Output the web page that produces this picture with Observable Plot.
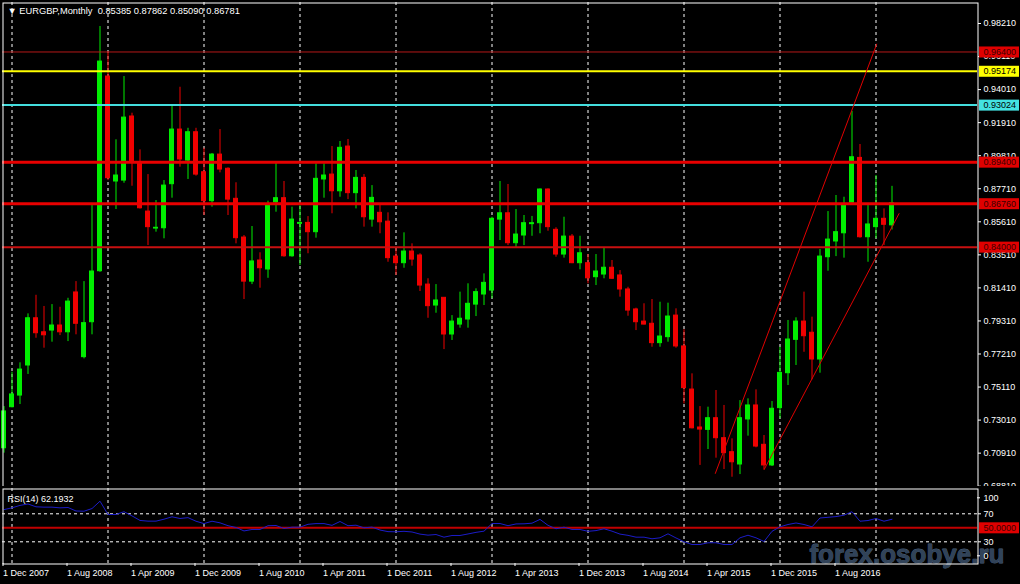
<!DOCTYPE html>
<html><head><meta charset="utf-8">
<script src="https://cdn.jsdelivr.net/npm/d3@7"></script>
<script src="https://cdn.jsdelivr.net/npm/@observablehq/plot@0.6"></script>
<style>
html,body{margin:0;padding:0;background:#000;}
#wrap{position:relative;width:1020px;height:584px;background:#000;overflow:hidden;}
#wrap svg{position:absolute;left:0;}
</style></head><body><div id="wrap"></div>
<script>
// ---------- data ----------
const symbol = "EURGBP", period = "Monthly";
const openP = [0.7122,0.7383,0.7457,0.7648,0.7948,0.7859,0.7870,0.7902,0.7859,0.8112,
0.7701,0.7923,0.8247,0.9484,0.8817,0.8823,0.9230,0.8937,0.8626,0.8518,
0.8520,0.8800,0.9147,0.8950,0.9130,0.8876,0.8692,0.8988,0.8898,0.8707,
0.8461,0.8181,0.8315,0.8258,0.8685,0.8711,0.8342,0.8548,0.8554,0.8495,
0.8830,0.8861,0.8755,0.9039,0.8743,0.8840,0.8575,0.8618,0.8562,0.8340,
0.8298,0.8372,0.8347,0.8162,0.8029,0.8078,0.7845,0.7908,0.7940,0.8035,
0.8099,0.8124,0.8575,0.8615,0.8425,0.8474,0.8546,0.8552,0.8766,0.8510,
0.8353,0.8467,0.8298,0.8298,0.8209,0.8226,0.8269,0.8220,0.8131,0.8004,
0.7927,0.7913,0.7790,0.7828,0.7965,0.7769,0.7495,0.7254,0.7239,0.7313,
0.7186,0.7097,0.7019,0.7305,0.7394,0.7144,0.7013,0.7377,0.7599,0.7811,
0.7927,0.7856,0.7686,0.8336,0.8436,0.8488,0.8683,0.8967,0.8463,0.8527,
0.8580,0.85385];
const highP = [0.7387,0.7605,0.7665,0.7976,0.8094,0.8023,0.8035,0.8018,0.8075,0.8181,
0.8181,0.8664,0.9802,0.9643,0.9082,0.9484,0.9251,0.9018,0.8861,0.8696,
0.8823,0.9300,0.9416,0.9155,0.9155,0.9028,0.8995,0.9147,0.8904,0.8809,
0.8474,0.8531,0.8364,0.8692,0.8933,0.8817,0.8654,0.8664,0.8594,0.8929,
0.8929,0.9039,0.9071,0.9084,0.8887,0.8861,0.8791,0.8664,0.8618,0.8399,
0.8491,0.8421,0.8358,0.8199,0.8162,0.8078,0.7965,0.8114,0.8167,0.8135,
0.8230,0.8590,0.8817,0.8798,0.8639,0.8601,0.8595,0.8770,0.8770,0.8523,
0.8590,0.8480,0.8469,0.8353,0.8353,0.8396,0.8315,0.8251,0.8145,0.8012,
0.8040,0.8067,0.8050,0.8044,0.8008,0.7875,0.7595,0.7387,0.7383,0.7489,
0.7394,0.7182,0.7425,0.7436,0.7493,0.7203,0.7419,0.7764,0.7934,0.7951,
0.8114,0.7955,0.8385,0.8626,0.8728,0.8717,0.9262,0.9052,0.8664,0.8855,
0.8643,0.87862];
const lowP = [0.7091,0.7379,0.7400,0.7591,0.7821,0.7758,0.7796,0.7838,0.7800,0.7843,
0.7690,0.7843,0.8240,0.8823,0.8639,0.8806,0.8787,0.8642,0.8410,0.8495,
0.8453,0.8711,0.8908,0.8830,0.8851,0.8601,0.8654,0.8872,0.8601,0.8421,
0.8067,0.8162,0.8139,0.8202,0.8622,0.8336,0.8336,0.8283,0.8358,0.8457,
0.8711,0.8612,0.8717,0.8702,0.8643,0.8527,0.8527,0.8485,0.8304,0.8220,
0.8266,0.8279,0.8118,0.7948,0.7980,0.7749,0.7807,0.7885,0.7885,0.7959,
0.8029,0.8072,0.8442,0.8410,0.8393,0.8410,0.8469,0.8485,0.8501,0.8336,
0.8330,0.8295,0.8256,0.8167,0.8156,0.8199,0.8195,0.8082,0.7961,0.7870,
0.7905,0.7764,0.7764,0.7796,0.7758,0.7404,0.7245,0.7013,0.7114,0.7059,
0.6987,0.6938,0.6955,0.7199,0.7125,0.6985,0.7006,0.7309,0.7521,0.7648,
0.7732,0.7557,0.7599,0.8247,0.8340,0.8330,0.8680,0.8457,0.8304,0.8453,
0.8410,0.85090];
const closeP = [0.7356,0.7464,0.7622,0.7948,0.7853,0.7840,0.7902,0.7859,0.8054,0.7913,
0.7917,0.8245,0.9579,0.8838,0.8855,0.9223,0.8939,0.8647,0.8527,0.8523,
0.8791,0.9147,0.8957,0.9130,0.8861,0.8692,0.8988,0.8893,0.8702,0.8457,
0.8181,0.8309,0.8266,0.8669,0.8711,0.8342,0.8575,0.8554,0.8495,0.8834,
0.8855,0.8755,0.9031,0.8743,0.8840,0.8590,0.8713,0.8558,0.8330,0.8298,
0.8372,0.8321,0.8156,0.8025,0.8061,0.7845,0.7927,0.7945,0.8040,0.8114,
0.8173,0.8580,0.8615,0.8425,0.8480,0.8552,0.8552,0.8766,0.8527,0.8353,
0.8467,0.8298,0.8361,0.8202,0.8245,0.8269,0.8199,0.8131,0.7997,0.7923,
0.7908,0.7790,0.7832,0.7959,0.7769,0.7504,0.7249,0.7241,0.7313,0.7186,
0.7091,0.7033,0.7313,0.7394,0.7133,0.7013,0.7373,0.7601,0.7813,0.7927,
0.7834,0.7686,0.8340,0.8448,0.8495,0.8664,0.8971,0.8463,0.8544,0.8580,
0.8542,0.86781];
const rsiValues = [76,78.5,82,84,80,79.5,79.5,78.5,79,74,
73.7,77.5,88,69,69,73,67,60.5,59.5,59.5,
62.3,65.7,63.3,64.5,59.4,56,59.4,57.1,53,50.5,
45.5,47.6,47.6,53,53.3,49,50.9,50.9,55,56,
56,53.5,59,53,53.7,50,51,46.8,44.5,44.3,
45,44,41,39.5,40.4,36.6,39,39,41.2,43.5,
45.2,56.1,56.1,53,55.5,55.7,56.6,62,53.5,48.6,
50.9,47.6,47.6,45,46,48.6,45.2,41,39.2,36.6,
36.6,34.3,35.7,41.4,35.5,30,26.1,26.1,28.6,28.6,
26.1,26.1,35.7,39.4,35.7,30.4,45,51.4,54.7,56.9,
54.7,51.4,64,65,66,68,73,59.4,60.4,63.3,
59.4,62.1932];
const priceTicks = [0.98210,0.96110,0.94010,0.91910,0.89810,0.87710,0.85610,0.83510,0.81410,0.79310,0.77210,0.75110,0.73010,0.70910,0.68810];
const xTickIdx = [0,8,16,24,32,40,48,56,64,72,80,88,96,104];
const xTickLabels = ["1 Dec 2007","1 Aug 2008","1 Apr 2009","1 Dec 2009","1 Aug 2010","1 Apr 2011","1 Dec 2011","1 Aug 2012","1 Apr 2013","1 Dec 2013","1 Aug 2014","1 Apr 2015","1 Dec 2015","1 Aug 2016"];
const yearStartIdx = [1,13,25,37,49,61,73,85,97,109];
const levelPrices = [0.96400,0.95174,0.93024,0.89400,0.86760,0.84000];
const trendX1 = [88.9, 95.0], trendY1 = [0.6960, 0.6985];
const trendX2 = [109.1, 111.9], trendY2 = [0.9692, 0.8615];
const rsiLevels = [30, 70];
const rsiHLine = 50;

// ---------- styles ----------
const FONT = "'Liberation Sans', Arial, sans-serif";
const UP = "#00ee00", DN = "#f00000";
const levelStyle = [
  {stroke:"#b41818", width:1, box:"#e00000", text:"#3a0000"},
  {stroke:"#ffff00", width:2, box:"#ffff00", text:"#000"},
  {stroke:"#44dede", width:2, box:"#44e2e2", text:"#000"},
  {stroke:"#e80000", width:3, box:"#e00000", text:"#3a0000"},
  {stroke:"#e80000", width:3, box:"#e00000", text:"#3a0000"},
  {stroke:"#c81010", width:2, box:"#e00000", text:"#3a0000"}
];
const n = openP.length;
const last = n - 1;
const XDOM = [-0.1875, 121.6875];
const XMAX = XDOM[1];
const candles = d3.range(n).map(i => ({i, o: openP[i], h: highP[i], l: lowP[i], c: closeP[i], up: closeP[i] >= openP[i]}));
const trends = trendX1.map((x, k) => ({x1: x, y1: trendY1[k], x2: trendX2[k], y2: trendY2[k]}));
const rsiData = rsiValues.map((v, i) => ({i, v}));
const header = `\u25BC ${symbol},${period}\u00a0\u00a0${openP[last].toFixed(5)} ${highP[last].toFixed(5)} ${lowP[last].toFixed(5)} ${closeP[last].toFixed(5)}`;
const dash = {stroke: "#fff", strokeDasharray: "3,3", strokeWidth: 1};

const main = Plot.plot({
  width: 1020, height: 487,
  marginLeft: 2, marginRight: 43, marginTop: 2, marginBottom: 1,
  style: {background: "#000", color: "#fff", fontFamily: FONT, fontSize: "9px", overflow: "visible"},
  x: {type: "linear", domain: XDOM, axis: null},
  y: {domain: [0.68791, 0.99544], label: null},
  marks: [
    Plot.ruleX(yearStartIdx, dash),
    Plot.ruleX(candles, {x: "i", y1: "l", y2: "h", stroke: d => d.up ? UP : DN, strokeWidth: 1}),
    Plot.rect(candles, {x1: d => d.i - 0.25, x2: d => d.i + 0.25, y1: "o", y2: "c",
      fill: d => d.up ? UP : DN, stroke: d => d.up ? UP : DN, strokeWidth: 1}),
    ...levelPrices.map((p, k) => Plot.ruleY([p], {stroke: levelStyle[k].stroke, strokeWidth: levelStyle[k].width})),
    Plot.link(trends, {x1: "x1", y1: "y1", x2: "x2", y2: "y2", stroke: "#e00000", strokeWidth: 1}),
    Plot.frame({stroke: "#fff", insetLeft: 0.5, insetTop: 0.5, insetRight: -0.5, insetBottom: -0.5}),
    Plot.axisY(priceTicks, {anchor: "right", tickSize: 3, tickPadding: 3, tickFormat: d => d.toFixed(5), label: null, fontSize: 9}),
    ...levelPrices.map((p, k) => Plot.rect([p], {x1: () => XMAX, x2: () => XMAX, y1: d => d, y2: d => d,
      insetLeft: 2, insetRight: -42, insetTop: -5, insetBottom: -6, fill: levelStyle[k].box})),
    ...levelPrices.map((p, k) => Plot.text([p], {x: () => XMAX, y: d => d, text: d => d.toFixed(5),
      dx: 6, textAnchor: "start", fill: levelStyle[k].text, fontSize: 9})),
    Plot.text([header], {frameAnchor: "top-left", dx: 5, dy: 5, lineAnchor: "top", textAnchor: "start",
      text: d => d, fill: "#fff", fontSize: 9.3})
  ]
});
main.style.top = "0px";

const rsiPlot = Plot.plot({
  width: 1020, height: 98,
  marginLeft: 2, marginRight: 43, marginTop: 2, marginBottom: 21,
  style: {background: "#000", color: "#fff", fontFamily: FONT, fontSize: "9px", overflow: "visible"},
  x: {type: "linear", domain: XDOM, label: null},
  y: {domain: [-1, 106.14], label: null},
  marks: [
    Plot.ruleX(yearStartIdx, dash),
    Plot.ruleY(rsiLevels, dash),
    Plot.ruleY([rsiHLine], {stroke: "#c00000", strokeWidth: 2}),
    Plot.text(["forex.osobye.ru"], {frameAnchor: "bottom-right", dx: 27, dy: -9, textAnchor: "end", lineAnchor: "middle",
      text: d => d, fill: "#34475e", stroke: "#4d6482", strokeWidth: 0.8, fontSize: 26, fontWeight: "bold", opacity: 0.95}),
    Plot.line(rsiData, {x: "i", y: "v", stroke: "#1c1cc8", strokeWidth: 1}),
    Plot.frame({stroke: "#fff", insetLeft: 0.5, insetTop: 0.5, insetRight: -0.5, insetBottom: -0.5}),
    Plot.axisY(rsiLevels, {anchor: "right", tickSize: 3, tickPadding: 3, tickFormat: d => String(d), label: null, fontSize: 9}),
    Plot.ruleY([100], {x1: () => XMAX, x2: () => XMAX, insetRight: -3, dy: 5, stroke: "#fff"}),
    Plot.ruleY([0], {x1: () => XMAX, x2: () => XMAX, insetRight: -3, dy: -7, stroke: "#fff"}),
    Plot.text([100], {x: () => XMAX, y: d => d, dy: 5, dx: 6, textAnchor: "start", text: d => String(d), fill: "#fff", fontSize: 9}),
    Plot.text([0], {x: () => XMAX, y: d => d, dy: -7, dx: 6, textAnchor: "start", text: d => String(d), fill: "#fff", fontSize: 9}),
    Plot.rect([rsiHLine], {x1: () => XMAX, x2: () => XMAX, y1: d => d, y2: d => d,
      insetLeft: 2, insetRight: -42, insetTop: -5, insetBottom: -6, fill: "#e00000"}),
    Plot.text([rsiHLine], {x: () => XMAX, y: d => d, text: d => d.toFixed(4), dx: 6, textAnchor: "start", fill: "#3a0000", fontSize: 9}),
    Plot.axisX(xTickIdx, {anchor: "bottom", tickSize: 3, tickPadding: 3, textAnchor: "start", dx: -1,
      tickFormat: d => xTickLabels[xTickIdx.indexOf(d)], label: null, fontSize: 9}),
    Plot.text([`RSI(14) ${rsiValues[last].toFixed(4)}`], {frameAnchor: "top-left", dx: 5, dy: 7.5, lineAnchor: "top",
      textAnchor: "start", text: d => d, fill: "#fff", fontSize: 9})
  ]
});
rsiPlot.style.top = "486px";

const wrap = document.getElementById("wrap");
wrap.appendChild(main);
wrap.appendChild(rsiPlot);
</script>
</body></html>
